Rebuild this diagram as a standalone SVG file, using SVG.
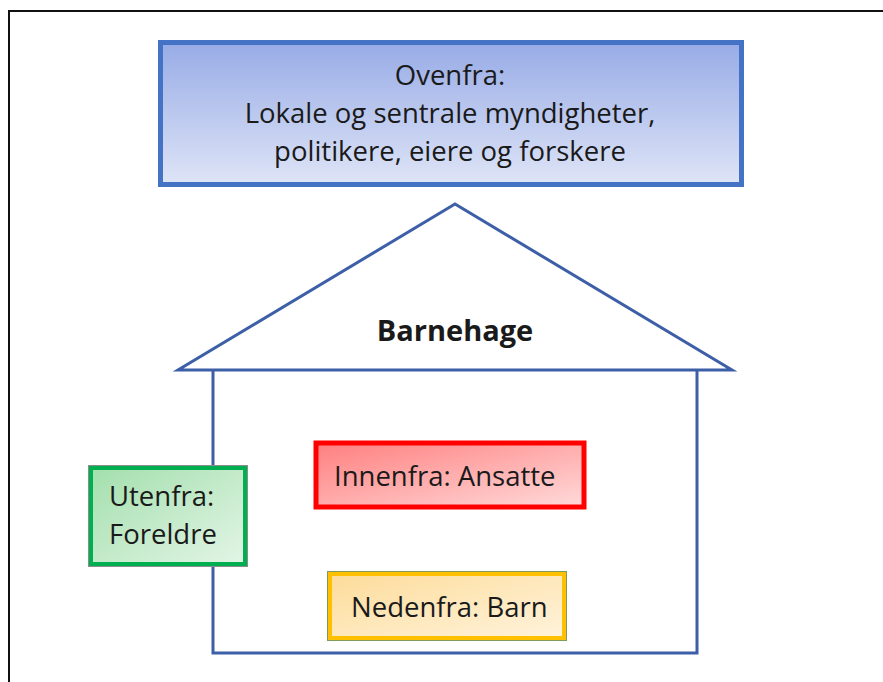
<svg xmlns="http://www.w3.org/2000/svg" width="883" height="682" viewBox="0 0 883 682">
  <defs>
    <linearGradient id="gBlue" x1="0" y1="0" x2="0" y2="1">
      <stop offset="0" stop-color="#97abe6"/>
      <stop offset="1" stop-color="#dfe5f7"/>
    </linearGradient>
    <linearGradient id="gGreen" x1="0" y1="0" x2="1" y2="1">
      <stop offset="0" stop-color="#a3dfad"/>
      <stop offset="1" stop-color="#e3f5e6"/>
    </linearGradient>
    <linearGradient id="gRed" x1="0" y1="0" x2="1" y2="1">
      <stop offset="0" stop-color="#ff7f7f"/>
      <stop offset="1" stop-color="#ffdada"/>
    </linearGradient>
    <linearGradient id="gYellow" x1="0" y1="0" x2="1" y2="1">
      <stop offset="0" stop-color="#fddc9a"/>
      <stop offset="1" stop-color="#fff3dc"/>
    </linearGradient>
    <style>
      text { font-family: "Open Sans", "Liberation Sans", sans-serif; fill: #1a1a1a; }
      .lbl { font-size: 27.5px; }
      .house { fill: none; stroke: #3d5fa8; stroke-width: 3; }
    </style>
  </defs>

  <rect width="883" height="682" fill="#ffffff"/>
  <!-- outer frame -->
  <path d="M9,690 V11 H890" fill="none" stroke="#111" stroke-width="2"/>

  <!-- house outline -->
  <g id="house">
    <polygon class="house" points="455,204 178,370 732,370" stroke-linejoin="miter"/>
    <polyline class="house" points="213,370 213,653 697,653 697,370"/>
    <text x="455" y="341" text-anchor="middle" font-size="29" font-weight="bold">Barnehage</text>
  </g>

  <g id="ovenfra">
    <rect x="160.5" y="42.5" width="581" height="142" fill="url(#gBlue)" stroke="#4472c4" stroke-width="5"/>
    <text class="lbl" x="450" y="85" text-anchor="middle">Ovenfra:</text>
    <text class="lbl" x="450" y="123" text-anchor="middle">Lokale og sentrale myndigheter,</text>
    <text class="lbl" x="450" y="161" text-anchor="middle">politikere, eiere og forskere</text>
  </g>

  <g id="utenfra">
    <rect x="88.5" y="465.5" width="159" height="101" fill="none" stroke="#8c8c8c" stroke-width="1"/>
    <rect x="91" y="468" width="154" height="96" fill="url(#gGreen)" stroke="#00b050" stroke-width="4"/>
    <text class="lbl" x="109" y="506">Utenfra:</text>
    <text class="lbl" x="109" y="544">Foreldre</text>
  </g>

  <g id="innenfra">
    <rect x="316" y="443" width="268" height="64" fill="url(#gRed)" stroke="#ff0000" stroke-width="5"/>
    <text class="lbl" x="334" y="486">Innenfra: Ansatte</text>
  </g>

  <g id="nedenfra">
    <rect x="327.5" y="571.5" width="239" height="69" fill="none" stroke="#7f9a5a" stroke-width="1"/>
    <rect x="330" y="574" width="234" height="64" fill="url(#gYellow)" stroke="#ffc000" stroke-width="4"/>
    <text class="lbl" x="351" y="617">Nedenfra: Barn</text>
  </g>
</svg>
